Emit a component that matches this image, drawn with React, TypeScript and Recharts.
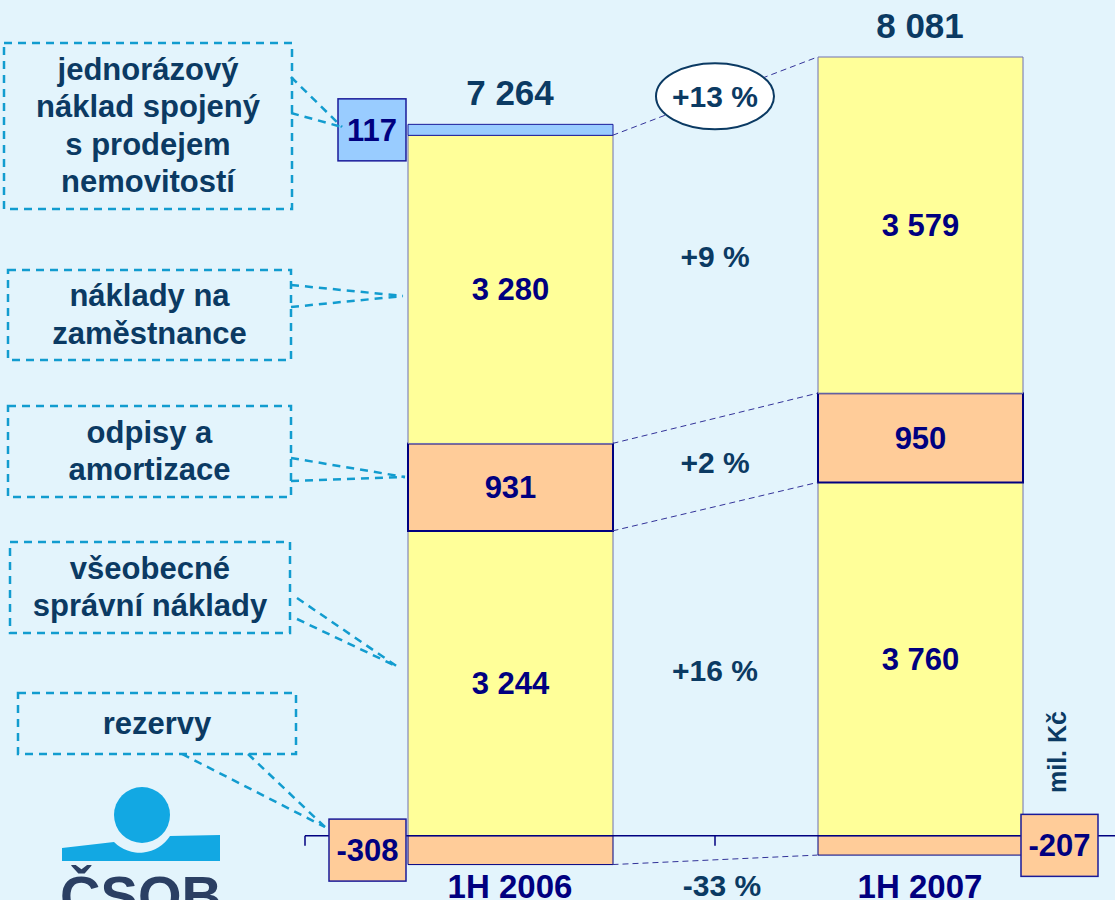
import {
  BarChart, Bar, XAxis, YAxis, LabelList, ReferenceLine, ReferenceDot,
} from 'recharts'

const periods = ['1H 2006', '1H 2007']
const rezervy = [-308, -207]
const spravni = [3244, 3760]
const odpisy = [931, 950]
const zamestnanci = [3280, 3579]
const jednorazovy: (number | null)[] = [117, null]
const totals = [7264, 8081]
const changes = { rezervy: '-33 %', spravni: '+16 %', odpisy: '+2 %', zamestnanci: '+9 %', celkem: '+13 %' }

const rows = periods.map((p, i) => ({
  x: i + 0.5,
  name: p,
  rezervy: rezervy[i],
  spravni: spravni[i],
  odpisy: odpisy[i],
  zamestnanci: zamestnanci[i],
  jednorazovy: jednorazovy[i],
}))

const BG = '#E3F4FC'
const NAVY = '#000080'
const DARK = '#0B3A63'
const CYAN = '#129CCF'
const FONT = '"Liberation Sans", Arial, sans-serif'

const fmt = (v: number) => String(v).replace(/\B(?=(\d{3})+(?!\d))/g, ' ')

// stack bounds per period
const topSpravni = spravni
const topOdpisy = spravni.map((v, i) => v + odpisy[i])
const topZam = topOdpisy.map((v, i) => v + zamestnanci[i])
const stackTop = topZam.map((v, i) => v + (jednorazovy[i] ?? 0))
const mid = (a: number[], b: number[]) => ((a[0] + b[0]) / 2 + (a[1] + b[1]) / 2) / 2
const half = 0.25

// eslint-disable-next-line @typescript-eslint/no-explicit-any
const centerLabel = (values: (number | null)[]) => (p: any) => {
  const v = values[p.index]
  if (v == null) return null
  return (
    <text x={p.x + p.width / 2} y={p.y + p.height / 2 + 11} textAnchor="middle"
      fill={NAVY} fontSize={31} fontWeight="bold" fontFamily={FONT}>{fmt(v)}</text>
  )
}

// eslint-disable-next-line @typescript-eslint/no-explicit-any
const sideBox = (values: (number | null)[], fill: string, w: number) => (p: any) => {
  const v = values[p.index]
  if (v == null) return null
  const top = Math.min(p.y, p.y + p.height)
  const cy = top + Math.abs(p.height) / 2
  const bx = p.index === 0 ? p.x - w - 2 : p.x + p.width - 2
  return (
    <g>
      <rect x={bx} y={cy - 31} width={w} height={62} fill={fill} stroke="#1a1a99" strokeWidth={1.5} />
      <text x={bx + w / 2} y={cy + 11} textAnchor="middle" fill={NAVY} fontSize={31}
        fontWeight="bold" fontFamily={FONT}>{fmt(v)}</text>
    </g>
  )
}

// eslint-disable-next-line @typescript-eslint/no-explicit-any
function PeriodTick({ x, y, payload }: any) {
  return (
    <text x={x} y={y - 2} textAnchor="middle" fill={NAVY} fontSize={33} fontWeight="bold" fontFamily={FONT}>
      {periods[Math.floor(payload.value)]}
    </text>
  )
}

// eslint-disable-next-line @typescript-eslint/no-explicit-any
const pctText = (t: string, dx = 0, dy = 0) => (p: any) => (
  <text x={p.cx + dx} y={p.cy + 10 + dy} textAnchor="middle" fill={DARK} fontSize={30}
    fontWeight="bold" fontFamily={FONT}>{t}</text>
)

// eslint-disable-next-line @typescript-eslint/no-explicit-any
const totalText = (v: number) => (p: any) => (
  <text x={p.cx} y={p.cy - 19} textAnchor="middle" fill={DARK} fontSize={35}
    fontWeight="bold" fontFamily={FONT}>{fmt(v)}</text>
)

// eslint-disable-next-line @typescript-eslint/no-explicit-any
const tickMark = (p: any) => <line x1={p.cx} y1={p.cy} x2={p.cx} y2={p.cy + 10} stroke={NAVY} strokeWidth={1.5} />

// eslint-disable-next-line @typescript-eslint/no-explicit-any
const oval = (p: any) => (
  <g>
    <ellipse cx={p.cx} cy={p.cy} rx={59} ry={33} fill="#fff" stroke={DARK} strokeWidth={2} />
    <text x={p.cx} y={p.cy + 11} textAnchor="middle" fill={DARK} fontSize={30}
      fontWeight="bold" fontFamily={FONT}>{changes.celkem}</text>
  </g>
)

const callouts = [
  { lines: ['jednorázový', 'náklad spojený', 's prodejem', 'nemovitostí'], box: [4, 43, 288, 166], leaders: [[291, 77, 342, 127], [291, 113, 342, 127]] },
  { lines: ['náklady na', 'zaměstnance'], box: [8, 270, 283, 90], leaders: [[291, 285, 403, 296], [291, 307, 403, 296]] },
  { lines: ['odpisy a', 'amortizace'], box: [8, 406, 283, 91], leaders: [[291, 458, 405, 477], [291, 481, 405, 477]] },
  { lines: ['všeobecné', 'správní náklady'], box: [10, 542, 280, 91], leaders: [[297, 598, 398, 667], [297, 619, 398, 667]] },
  { lines: ['rezervy'], box: [18, 693, 278, 61], leaders: [[182, 754, 325, 827], [248, 754, 325, 827]] },
]

const dash = { stroke: '#333399', strokeDasharray: '6 4', strokeWidth: 1 }

export default function App() {
  return (
    <div style={{ position: 'absolute', left: 0, top: 0, width: 1115, height: 900, overflow: 'hidden', background: BG, fontFamily: FONT }}>
      <BarChart width={1130} height={900} data={rows} stackOffset="sign"
        margin={{ top: 9, right: 5, bottom: 0, left: 305 }}>
        <XAxis type="number" dataKey="x" domain={[0, 2]} ticks={[0.5, 1.5]} interval={0}
          axisLine={false} tickLine={false} height={8} tick={<PeriodTick />} />
        <YAxis hide domain={[-600, 8800]} allowDataOverflow />
        <Bar dataKey="rezervy" stackId="a" barSize={205} fill="#FFCC99" stroke={NAVY} strokeWidth={1} isAnimationActive={false}>
          <LabelList dataKey="rezervy" content={sideBox(rezervy, '#FFCC99', 77)} />
        </Bar>
        <Bar dataKey="spravni" stackId="a" barSize={205} fill="#FFFF99" stroke="#7070B0" strokeWidth={1} isAnimationActive={false}>
          <LabelList dataKey="spravni" content={centerLabel(spravni)} />
        </Bar>
        <Bar dataKey="odpisy" stackId="a" barSize={205} fill="#FFCC99" stroke={NAVY} strokeWidth={2} isAnimationActive={false}>
          <LabelList dataKey="odpisy" content={centerLabel(odpisy)} />
        </Bar>
        <Bar dataKey="zamestnanci" stackId="a" barSize={205} fill="#FFFF99" stroke="#7070B0" strokeWidth={1} isAnimationActive={false}>
          <LabelList dataKey="zamestnanci" content={centerLabel(zamestnanci)} />
        </Bar>
        <Bar dataKey="jednorazovy" stackId="a" barSize={205} fill="#99CCFF" stroke="#1a1a99" strokeWidth={1} isAnimationActive={false}>
          <LabelList dataKey="jednorazovy" content={sideBox(jednorazovy, '#99CCFF', 68)} />
        </Bar>

        <ReferenceLine y={0} stroke={NAVY} strokeWidth={1.5} />
        <ReferenceDot x={0} y={0} r={0} shape={tickMark} />
        <ReferenceDot x={1} y={0} r={0} shape={tickMark} />

        <ReferenceLine segment={[{ x: 0.5 + half, y: rezervy[0] }, { x: 1.5 - half, y: rezervy[1] }]} {...dash} />
        <ReferenceLine segment={[{ x: 0.5 + half, y: topSpravni[0] }, { x: 1.5 - half, y: topSpravni[1] }]} {...dash} />
        <ReferenceLine segment={[{ x: 0.5 + half, y: topOdpisy[0] }, { x: 1.5 - half, y: topOdpisy[1] }]} {...dash} />
        <ReferenceLine segment={[{ x: 0.5 + half, y: topZam[0] }, { x: 1.5 - half, y: topZam[1] }]} {...dash} />

        <ReferenceDot x={1} y={mid([0, 0], spravni)} r={0} shape={pctText(changes.spravni)} />
        <ReferenceDot x={1} y={mid(topSpravni, topOdpisy)} r={0} shape={pctText(changes.odpisy)} />
        <ReferenceDot x={1} y={mid(topOdpisy, topZam)} r={0} shape={pctText(changes.zamestnanci)} />
        <ReferenceDot x={1} y={(rezervy[0] + rezervy[1]) / 2} r={0} shape={pctText(changes.rezervy, 7, 26)} />
        <ReferenceDot x={1} y={(topZam[0] + topZam[1]) / 2} r={0} shape={oval} />

        <ReferenceDot x={0.5} y={stackTop[0]} r={0} shape={totalText(totals[0])} />
        <ReferenceDot x={1.5} y={stackTop[1]} r={0} shape={totalText(totals[1])} />
      </BarChart>

      <svg width={1115} height={900} style={{ position: 'absolute', left: 0, top: 0, pointerEvents: 'none' }}>
        {callouts.map((c, k) => {
          const [bx, by, bw, bh] = c.box
          const cy = by + bh / 2
          return (
            <g key={k}>
              <rect x={bx} y={by} width={bw} height={bh} fill="none" stroke={CYAN} strokeWidth={2.5} strokeDasharray="8 6" />
              {c.leaders.map((l, j) => (
                <line key={j} x1={l[0]} y1={l[1]} x2={l[2]} y2={l[3]} stroke={CYAN} strokeWidth={2.5} strokeDasharray="8 6" />
              ))}
              {c.lines.map((t, j) => (
                <text key={j} x={bx + bw / 2} y={cy + (j - (c.lines.length - 1) / 2) * 37.5 + 10}
                  textAnchor="middle" fill={DARK} fontSize={31} fontWeight="bold">{t}</text>
              ))}
            </g>
          )
        })}
        <text x={1066} y={752} transform="rotate(-90 1066 752)" textAnchor="middle" fill={DARK}
          fontSize={25} fontWeight="bold">mil. Kč</text>
        <circle cx={142} cy={815} r={28} fill="#12A8E3" />
        <path d="M62,848 L114,842 A36 36 0 0 0 170 836 L220 835 L220 861 L62 861 Z" fill="#12A8E3" />
        <text x={141} y={915} textAnchor="middle" fill="#2B3F63" fontSize={56} fontWeight="900">ČSOB</text>
      </svg>
    </div>
  )
}
